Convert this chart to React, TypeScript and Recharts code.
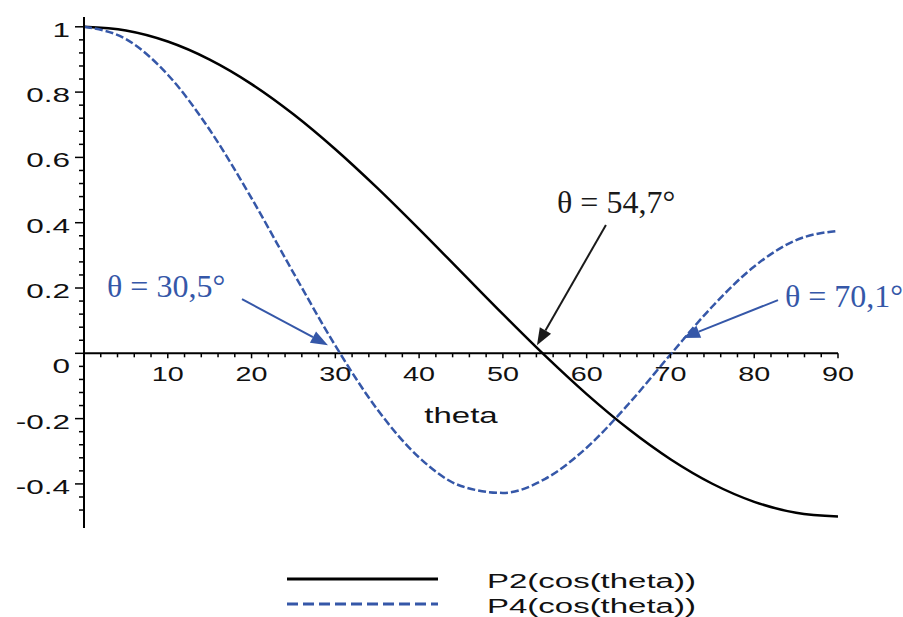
import {
  Legend,
  Line,
  LineChart,
  ReferenceDot,
  ReferenceLine,
  XAxis,
  YAxis,
} from "recharts";

// theta in degrees, every 5°
const thetaDeg = [0, 5, 10, 15, 20, 25, 30, 35, 40, 45, 50, 55, 60, 65, 70, 75, 80, 85, 90];
const p2Values = [
  1, 0.9886, 0.9548, 0.8995, 0.8245, 0.7321, 0.625, 0.5065, 0.3802, 0.25,
  0.1198, -0.0065, -0.125, -0.2321, -0.3245, -0.3995, -0.4548, -0.4886, -0.5,
];
const p4Values = [
  1, 0.9623, 0.8532, 0.6847, 0.4749, 0.2465, 0.0234, -0.1714, -0.319, -0.4063,
  -0.4275, -0.3852, -0.2891, -0.1552, -0.0038, 0.1434, 0.2659, 0.3468, 0.375,
];

const xMajorTicks = [10, 20, 30, 40, 50, 60, 70, 80, 90];
const xMinorTicks = [
  2, 4, 6, 8, 12, 14, 16, 18, 22, 24, 26, 28, 32, 34, 36, 38, 42, 44, 46, 48,
  52, 54, 56, 58, 62, 64, 66, 68, 72, 74, 76, 78, 82, 84, 86, 88,
];
const yMajorTicks = [-0.4, -0.2, 0, 0.2, 0.4, 0.6, 0.8, 1];
const yMinorTicks = [
  -0.48, -0.44, -0.36, -0.32, -0.28, -0.24, -0.16, -0.12, -0.08, -0.04,
  0.04, 0.08, 0.12, 0.16, 0.24, 0.28, 0.32, 0.36, 0.44, 0.48, 0.52, 0.56,
  0.64, 0.68, 0.72, 0.76, 0.84, 0.88, 0.92, 0.96,
];

// annotations, in data coordinates (theta, value)
const noteLabels = ["θ = 30,5°", "θ = 54,7°", "θ = 70,1°"];
const noteTextAt = [[2.75, 0.172], [56.46, 0.43], [83.67, 0.142]];
const arrowFrom = [[18.86, 0.166], [62.3, 0.393], [82.84, 0.163]];
const arrowTo = [[29.12, 0.025], [54.07, 0.025], [71.5, 0.047]];

const BLUE = "#3557a8";
const noteColors = [BLUE, "#1a1a1a", BLUE];
const SANS = "'Liberation Sans', Arial, sans-serif";
const SERIF = "'Liberation Serif', 'Times New Roman', serif";

const data = thetaDeg.map((theta, i) => ({
  theta,
  p2: p2Values[i],
  p4: p4Values[i],
}));

function YTick(props: any) {
  const { x, y, payload } = props;
  const major = yMajorTicks.includes(payload.value);
  const label = String(payload.value);
  return (
    <g>
      <line x1={x - (major ? 9 : 5)} x2={x} y1={y} y2={y} stroke="#000" strokeWidth={1.5} />
      {major && (
        <text
          transform={`translate(${x - 14},${y + (payload.value === 0 ? 20 : 10)}) scale(1.5,1)`}
          textAnchor="end"
          fontFamily={SANS}
          fontSize={21}
          fill="#111"
        >
          {label}
        </text>
      )}
    </g>
  );
}

function Arrow(props: any) {
  const { x1, y1, x2, y2, stroke } = props;
  const dx = x2 - x1;
  const dy = y2 - y1;
  const len = Math.hypot(dx, dy) || 1;
  const ux = dx / len;
  const uy = dy / len;
  const head = 17;
  const half = 6.5;
  const bx = x2 - ux * head;
  const by = y2 - uy * head;
  return (
    <g>
      <line x1={x1} y1={y1} x2={bx} y2={by} stroke={stroke} strokeWidth={2} />
      <polygon
        points={`${x2},${y2} ${bx - uy * half},${by + ux * half} ${bx + uy * half},${by - ux * half}`}
        fill={stroke}
      />
    </g>
  );
}

function LegendBox({ payload }: any) {
  return (
    <svg width={903} height={57}>
      {(payload ?? []).map((entry: any, i: number) => (
        <g key={entry.value}>
          <line
            x1={287}
            x2={438}
            y1={19 + i * 25}
            y2={19 + i * 25}
            stroke={entry.color}
            strokeWidth={3}
            strokeDasharray={entry.dataKey === "p4" ? "11 5" : undefined}
          />
          <text
            transform={`translate(487,${28 + i * 25}) scale(1.65,1)`}
            fontFamily={SANS}
            fontSize={20}
            fill="#111"
          >
            {entry.value}
          </text>
        </g>
      ))}
    </svg>
  );
}

export default function App() {
  return (
    <div style={{ position: "absolute", left: 0, top: 0, background: "#fff" }}>
      <LineChart
        width={903}
        height={617}
        data={data}
        margin={{ top: 17, right: 65, bottom: 89, left: 0 }}
      >
        <XAxis dataKey="theta" type="number" domain={[0, 90]} hide />
        <YAxis
          type="number"
          domain={[-0.535, 1.03]}
          width={84}
          ticks={[...yMinorTicks, ...yMajorTicks]}
          interval={0}
          tickSize={0}
          tickMargin={0}
          tickLine={false}
          axisLine={{ stroke: "#000", strokeWidth: 2 }}
          tick={<YTick />}
          allowDataOverflow
        />
        <ReferenceLine y={0} stroke="#000" strokeWidth={2} />
        {xMinorTicks.map((t) => (
          <ReferenceDot
            key={`minor-${t}`}
            x={t}
            y={0}
            r={0}
            shape={(p: any) => (
              <line x1={p.cx} x2={p.cx} y1={p.cy} y2={p.cy + 4} stroke="#000" strokeWidth={1.5} />
            )}
          />
        ))}
        {xMajorTicks.map((t) => (
          <ReferenceDot
            key={`major-${t}`}
            x={t}
            y={0}
            r={0}
            shape={(p: any) => (
              <g>
                <line x1={p.cx} x2={p.cx} y1={p.cy} y2={p.cy + 5} stroke="#000" strokeWidth={1.5} />
                <text
                  transform={`translate(${p.cx},${p.cy + 28}) scale(1.37,1)`}
                  textAnchor="middle"
                  fontFamily={SANS}
                  fontSize={21}
                  fill="#111"
                >
                  {t}
                </text>
              </g>
            )}
          />
        ))}
        <ReferenceDot
          x={45}
          y={0}
          r={0}
          shape={(p: any) => (
            <text
              transform={`translate(${p.cx},${p.cy + 70}) scale(1.5,1)`}
              textAnchor="middle"
              fontFamily={SANS}
              fontSize={22}
              fill="#111"
            >
              theta
            </text>
          )}
        />
        <Line
          dataKey="p2"
          name="P2(cos(theta))"
          type="monotone"
          stroke="#000"
          strokeWidth={2.5}
          dot={false}
          isAnimationActive={false}
        />
        <Line
          dataKey="p4"
          name="P4(cos(theta))"
          type="monotone"
          stroke={BLUE}
          strokeWidth={2.5}
          strokeDasharray="8 3"
          dot={false}
          isAnimationActive={false}
        />
        {noteLabels.map((label, i) => (
          <ReferenceLine
            key={`arrow-${label}`}
            segment={[
              { x: arrowFrom[i][0], y: arrowFrom[i][1] },
              { x: arrowTo[i][0], y: arrowTo[i][1] },
            ]}
            stroke={noteColors[i]}
            shape={(p: any) => <Arrow {...p} stroke={noteColors[i]} />}
          />
        ))}
        {noteLabels.map((label, i) => (
          <ReferenceDot
            key={`note-${label}`}
            x={noteTextAt[i][0]}
            y={noteTextAt[i][1]}
            r={0}
            shape={(p: any) => (
              <text x={p.cx} y={p.cy} fontFamily={SERIF} fontSize={32} fill={noteColors[i]}>
                {label}
              </text>
            )}
          />
        ))}
        <Legend
          layout="vertical"
          align="center"
          verticalAlign="middle"
          wrapperStyle={{ left: 0, top: 560, width: 903, height: 57 }}
          content={<LegendBox />}
        />
      </LineChart>
    </div>
  );
}
